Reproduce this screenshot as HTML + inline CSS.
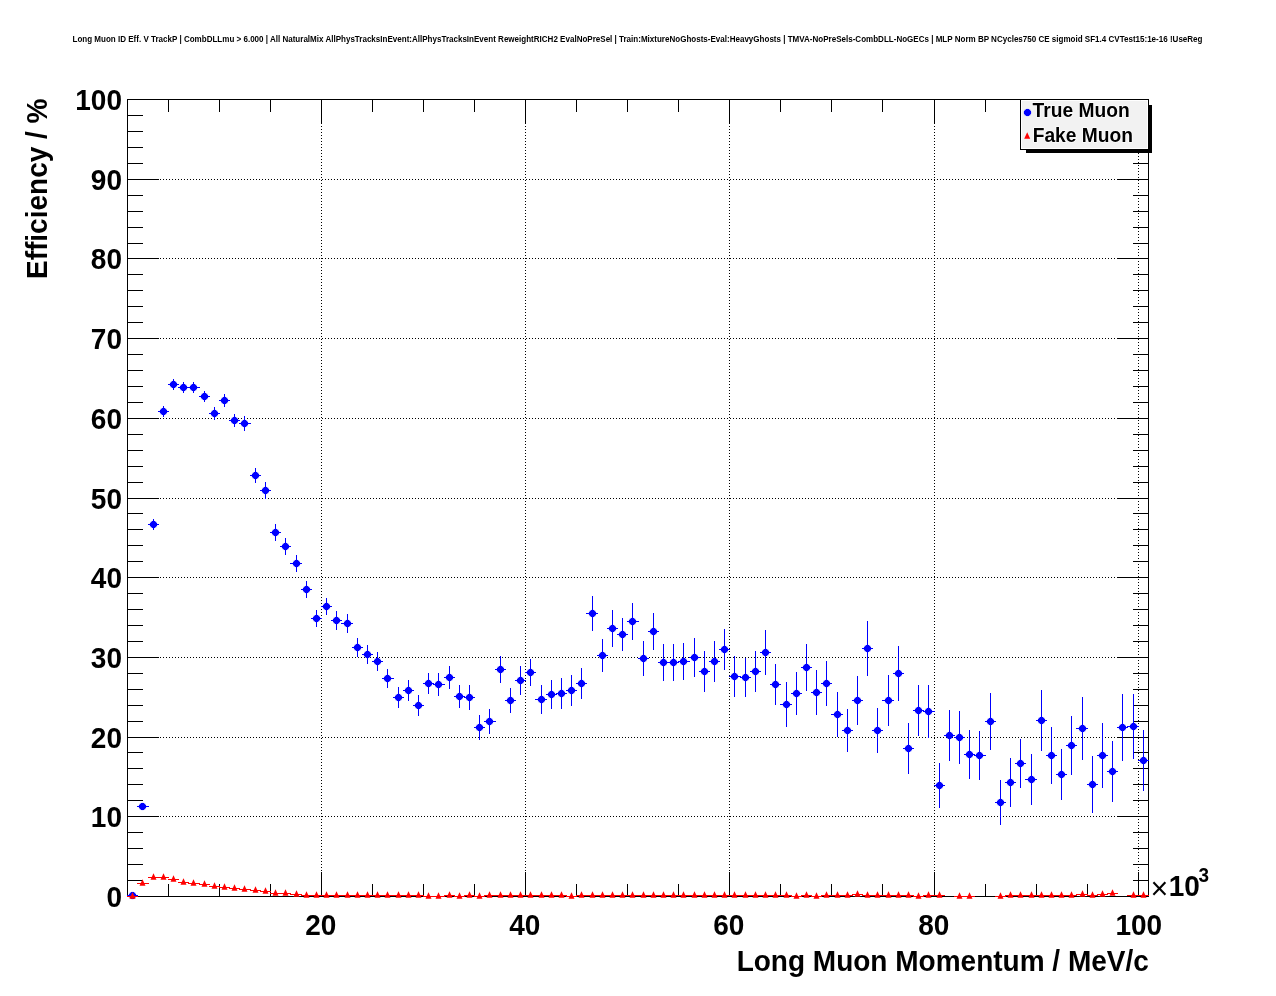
<!DOCTYPE html>
<html lang="en"><head><meta charset="utf-8"><title>Long Muon ID Eff. V TrackP</title>
<style>html,body{margin:0;padding:0;background:#fff}svg{display:block;will-change:transform}text{font-family:"Liberation Sans",Arial,Helvetica,sans-serif;font-weight:bold;fill:#000}.ax{stroke:#000;stroke-width:1;shape-rendering:crispEdges;fill:none}.gr{stroke:#000;stroke-width:1;stroke-dasharray:1 2;shape-rendering:crispEdges;fill:none}.b{stroke:#00f;stroke-width:1;shape-rendering:crispEdges}.r{stroke:#f00;stroke-width:1;shape-rendering:crispEdges}</style></head><body>
<svg width="1276" height="996" viewBox="0 0 1276 996">
<rect width="1276" height="996" fill="#fff"/>
<text x="72.5" y="42" font-size="8.3" textLength="1130" lengthAdjust="spacingAndGlyphs">Long Muon ID Eff. V TrackP | CombDLLmu &gt; 6.000 | All NaturalMix AllPhysTracksInEvent:AllPhysTracksInEvent ReweightRICH2 EvalNoPreSel | Train:MixtureNoGhosts-Eval:HeavyGhosts | TMVA-NoPreSels-CombDLL-NoGECs | MLP Norm BP NCycles750 CE sigmoid SF1.4 CVTest15:1e-16 !UseReg</text>
<path class="gr" d="M160 816.5H1117M160 737.5H1117M160 657.5H1117M160 577.5H1117M160 498.5H1117M160 418.5H1117M160 338.5H1117M160 258.5H1117M160 179.5H1117M321.5 123V872M525.5 123V872M729.5 123V872M934.5 123V872M1138.5 123V872"/>
<path class="ax" d="M127.5 99.5H1148.5V896.5H127.5ZM127.5 896.5h31.5M1148.5 896.5h-31.5M127.5 880.5h15.5M1148.5 880.5h-15.5M127.5 864.5h15.5M1148.5 864.5h-15.5M127.5 848.5h15.5M1148.5 848.5h-15.5M127.5 832.5h15.5M1148.5 832.5h-15.5M127.5 816.5h31.5M1148.5 816.5h-31.5M127.5 800.5h15.5M1148.5 800.5h-15.5M127.5 784.5h15.5M1148.5 784.5h-15.5M127.5 768.5h15.5M1148.5 768.5h-15.5M127.5 752.5h15.5M1148.5 752.5h-15.5M127.5 737.5h31.5M1148.5 737.5h-31.5M127.5 721.5h15.5M1148.5 721.5h-15.5M127.5 705.5h15.5M1148.5 705.5h-15.5M127.5 689.5h15.5M1148.5 689.5h-15.5M127.5 673.5h15.5M1148.5 673.5h-15.5M127.5 657.5h31.5M1148.5 657.5h-31.5M127.5 641.5h15.5M1148.5 641.5h-15.5M127.5 625.5h15.5M1148.5 625.5h-15.5M127.5 609.5h15.5M1148.5 609.5h-15.5M127.5 593.5h15.5M1148.5 593.5h-15.5M127.5 577.5h31.5M1148.5 577.5h-31.5M127.5 561.5h15.5M1148.5 561.5h-15.5M127.5 545.5h15.5M1148.5 545.5h-15.5M127.5 529.5h15.5M1148.5 529.5h-15.5M127.5 513.5h15.5M1148.5 513.5h-15.5M127.5 498.5h31.5M1148.5 498.5h-31.5M127.5 482.5h15.5M1148.5 482.5h-15.5M127.5 466.5h15.5M1148.5 466.5h-15.5M127.5 450.5h15.5M1148.5 450.5h-15.5M127.5 434.5h15.5M1148.5 434.5h-15.5M127.5 418.5h31.5M1148.5 418.5h-31.5M127.5 402.5h15.5M1148.5 402.5h-15.5M127.5 386.5h15.5M1148.5 386.5h-15.5M127.5 370.5h15.5M1148.5 370.5h-15.5M127.5 354.5h15.5M1148.5 354.5h-15.5M127.5 338.5h31.5M1148.5 338.5h-31.5M127.5 322.5h15.5M1148.5 322.5h-15.5M127.5 306.5h15.5M1148.5 306.5h-15.5M127.5 290.5h15.5M1148.5 290.5h-15.5M127.5 274.5h15.5M1148.5 274.5h-15.5M127.5 258.5h31.5M1148.5 258.5h-31.5M127.5 243.5h15.5M1148.5 243.5h-15.5M127.5 227.5h15.5M1148.5 227.5h-15.5M127.5 211.5h15.5M1148.5 211.5h-15.5M127.5 195.5h15.5M1148.5 195.5h-15.5M127.5 179.5h31.5M1148.5 179.5h-31.5M127.5 163.5h15.5M1148.5 163.5h-15.5M127.5 147.5h15.5M1148.5 147.5h-15.5M127.5 131.5h15.5M1148.5 131.5h-15.5M127.5 115.5h15.5M1148.5 115.5h-15.5M127.5 99.5h31.5M1148.5 99.5h-31.5M168.5 896.5v-12.5M168.5 99.5v12.5M219.5 896.5v-12.5M219.5 99.5v12.5M270.5 896.5v-12.5M270.5 99.5v12.5M321.5 896.5v-24.5M321.5 99.5v24.5M372.5 896.5v-12.5M372.5 99.5v12.5M423.5 896.5v-12.5M423.5 99.5v12.5M474.5 896.5v-12.5M474.5 99.5v12.5M525.5 896.5v-24.5M525.5 99.5v24.5M576.5 896.5v-12.5M576.5 99.5v12.5M627.5 896.5v-12.5M627.5 99.5v12.5M678.5 896.5v-12.5M678.5 99.5v12.5M729.5 896.5v-24.5M729.5 99.5v24.5M780.5 896.5v-12.5M780.5 99.5v12.5M831.5 896.5v-12.5M831.5 99.5v12.5M882.5 896.5v-12.5M882.5 99.5v12.5M934.5 896.5v-24.5M934.5 99.5v24.5M985.5 896.5v-12.5M985.5 99.5v12.5M1036.5 896.5v-12.5M1036.5 99.5v12.5M1087.5 896.5v-12.5M1087.5 99.5v12.5M1138.5 896.5v-24.5M1138.5 99.5v24.5"/>
<text transform="translate(122 907.2) scale(0.9655 1)" font-size="29" text-anchor="end">0</text>
<text transform="translate(122 827.2) scale(0.9655 1)" font-size="29" text-anchor="end">10</text>
<text transform="translate(122 748.2) scale(0.9655 1)" font-size="29" text-anchor="end">20</text>
<text transform="translate(122 668.2) scale(0.9655 1)" font-size="29" text-anchor="end">30</text>
<text transform="translate(122 588.2) scale(0.9655 1)" font-size="29" text-anchor="end">40</text>
<text transform="translate(122 509.2) scale(0.9655 1)" font-size="29" text-anchor="end">50</text>
<text transform="translate(122 429.2) scale(0.9655 1)" font-size="29" text-anchor="end">60</text>
<text transform="translate(122 349.2) scale(0.9655 1)" font-size="29" text-anchor="end">70</text>
<text transform="translate(122 269.2) scale(0.9655 1)" font-size="29" text-anchor="end">80</text>
<text transform="translate(122 190.2) scale(0.9655 1)" font-size="29" text-anchor="end">90</text>
<text transform="translate(122 110.2) scale(0.9655 1)" font-size="29" text-anchor="end">100</text>
<text transform="translate(320.8 935) scale(0.9655 1)" font-size="29" text-anchor="middle">20</text>
<text transform="translate(524.8 935) scale(0.9655 1)" font-size="29" text-anchor="middle">40</text>
<text transform="translate(728.8 935) scale(0.9655 1)" font-size="29" text-anchor="middle">60</text>
<text transform="translate(933.8 935) scale(0.9655 1)" font-size="29" text-anchor="middle">80</text>
<text transform="translate(1138.8 935) scale(0.9655 1)" font-size="29" text-anchor="middle">100</text>
<text transform="translate(1148.8 970.7) scale(0.9655 1)" font-size="29" text-anchor="end">Long Muon Momentum / MeV/c</text>
<text transform="translate(47.2 98.5) rotate(-90) scale(0.9655 1)" font-size="29" text-anchor="end">Efficiency / %</text>
<text transform="translate(1150.6 896) scale(0.9655 1)" font-size="29" text-anchor="start"><tspan font-weight="normal" font-size="31.5" dy="3">×</tspan><tspan dy="-3" dx="0.3">10</tspan><tspan font-size="19.6" dy="-13.6" dx="-1.3">3</tspan></text>
<defs><g id="m"><circle r="3.8" fill-opacity="0.45"/><path shape-rendering="crispEdges" d="M-1.5 -3.5h3v1h1v1h1v3h-1v1h-1v1h-3v-1h-1v-1h-1v-3h1v-1h1z"/></g><path id="t" d="M-3 2.3h6l-3 -6.5z"/></defs>
<path class="b" d="M127 895.5h11M137 806.5h12M142.5 805v3M148 524.5h11M153.5 519v11M158 411.5h11M163.5 406v11M168 384.5h11M173.5 379v11M178 387.5h11M183.5 382v11M188 387.5h12M193.5 382v11M199 396.5h11M204.5 391v11M209 413.5h11M214.5 407v13M219 400.5h11M224.5 394v13M229 420.5h11M234.5 414v13M239 423.5h12M244.5 416v15M250 475.5h11M255.5 468v15M260 490.5h11M265.5 482v17M270 532.5h11M275.5 524v17M280 546.5h11M285.5 538v17M290 563.5h12M296.5 555v17M301 589.5h11M306.5 581v17M311 618.5h11M316.5 610v17M321 606.5h11M326.5 598v17M331 620.5h11M336.5 611v19M341 623.5h12M347.5 614v19M352 647.5h11M357.5 638v19M362 654.5h11M367.5 645v19M372 661.5h11M377.5 652v19M382 678.5h12M387.5 669v19M393 697.5h11M398.5 687v21M403 690.5h11M408.5 680v21M413 705.5h11M418.5 695v21M423 683.5h11M428.5 673v21M433 684.5h12M438.5 673v23M444 677.5h11M449.5 666v23M454 696.5h11M459.5 685v23M464 697.5h11M469.5 685v25M474 727.5h11M479.5 715v25M484 721.5h12M489.5 709v25M495 669.5h11M500.5 656v27M505 700.5h11M510.5 688v25M515 680.5h11M520.5 666v29M525 672.5h11M530.5 659v27M535 699.5h12M541.5 685v29M546 694.5h11M551.5 680v29M556 693.5h11M561.5 678v31M566 690.5h11M571.5 675v31M576 683.5h11M581.5 668v31M586 613.5h12M592.5 596v35M597 655.5h11M602.5 639v33M607 628.5h11M612.5 610v37M617 634.5h11M622.5 618v33M627 621.5h12M632.5 603v37M638 658.5h11M643.5 641v35M648 631.5h11M653.5 613v37M658 662.5h11M663.5 644v37M668 662.5h11M673.5 644v37M678 661.5h12M683.5 643v37M689 657.5h11M694.5 638v39M699 671.5h11M704.5 651v41M709 661.5h11M714.5 641v41M719 649.5h11M724.5 629v41M729 676.5h12M734.5 656v41M740 677.5h11M745.5 658v39M750 671.5h11M755.5 651v41M760 652.5h11M765.5 630v45M770 684.5h11M775.5 664v41M780 704.5h12M786.5 682v45M791 693.5h11M796.5 672v43M801 667.5h11M806.5 644v47M811 692.5h11M816.5 670v45M821 683.5h11M826.5 661v45M831 714.5h12M837.5 692v45M842 730.5h11M847.5 709v43M852 700.5h11M857.5 676v49M862 648.5h11M867.5 621v55M872 730.5h11M877.5 708v45M882 700.5h12M888.5 675v51M893 673.5h11M898.5 646v55M903 748.5h11M908.5 723v51M913 710.5h11M918.5 685v51M923 711.5h12M928.5 685v53M934 785.5h11M939.5 763v45M944 735.5h11M949.5 710v51M954 737.5h11M959.5 711v53M964 754.5h11M969.5 730v49M974 755.5h12M979.5 731v49M985 721.5h11M990.5 693v57M995 802.5h11M1000.5 780v45M1005 782.5h11M1010.5 758v49M1015 763.5h11M1020.5 739v49M1025 779.5h12M1031.5 754v51M1036 720.5h11M1041.5 690v61M1046 755.5h11M1051.5 727v57M1056 774.5h11M1061.5 749v51M1066 745.5h11M1071.5 716v59M1076 728.5h12M1082.5 697v63M1087 784.5h11M1092.5 756v57M1097 755.5h11M1102.5 723v65M1107 771.5h11M1112.5 741v61M1117 727.5h11M1122.5 694v67M1127 726.5h12M1133.5 694v65M1138 760.5h11M1143.5 730v61"/>
<g fill="#00f"><use href="#m" x="132.5" y="895.5"/><use href="#m" x="142.5" y="806.5"/><use href="#m" x="153.5" y="524.5"/><use href="#m" x="163.5" y="411.5"/><use href="#m" x="173.5" y="384.5"/><use href="#m" x="183.5" y="387.5"/><use href="#m" x="193.5" y="387.5"/><use href="#m" x="204.5" y="396.5"/><use href="#m" x="214.5" y="413.5"/><use href="#m" x="224.5" y="400.5"/><use href="#m" x="234.5" y="420.5"/><use href="#m" x="244.5" y="423.5"/><use href="#m" x="255.5" y="475.5"/><use href="#m" x="265.5" y="490.5"/><use href="#m" x="275.5" y="532.5"/><use href="#m" x="285.5" y="546.5"/><use href="#m" x="296.5" y="563.5"/><use href="#m" x="306.5" y="589.5"/><use href="#m" x="316.5" y="618.5"/><use href="#m" x="326.5" y="606.5"/><use href="#m" x="336.5" y="620.5"/><use href="#m" x="347.5" y="623.5"/><use href="#m" x="357.5" y="647.5"/><use href="#m" x="367.5" y="654.5"/><use href="#m" x="377.5" y="661.5"/><use href="#m" x="387.5" y="678.5"/><use href="#m" x="398.5" y="697.5"/><use href="#m" x="408.5" y="690.5"/><use href="#m" x="418.5" y="705.5"/><use href="#m" x="428.5" y="683.5"/><use href="#m" x="438.5" y="684.5"/><use href="#m" x="449.5" y="677.5"/><use href="#m" x="459.5" y="696.5"/><use href="#m" x="469.5" y="697.5"/><use href="#m" x="479.5" y="727.5"/><use href="#m" x="489.5" y="721.5"/><use href="#m" x="500.5" y="669.5"/><use href="#m" x="510.5" y="700.5"/><use href="#m" x="520.5" y="680.5"/><use href="#m" x="530.5" y="672.5"/><use href="#m" x="541.5" y="699.5"/><use href="#m" x="551.5" y="694.5"/><use href="#m" x="561.5" y="693.5"/><use href="#m" x="571.5" y="690.5"/><use href="#m" x="581.5" y="683.5"/><use href="#m" x="592.5" y="613.5"/><use href="#m" x="602.5" y="655.5"/><use href="#m" x="612.5" y="628.5"/><use href="#m" x="622.5" y="634.5"/><use href="#m" x="632.5" y="621.5"/><use href="#m" x="643.5" y="658.5"/><use href="#m" x="653.5" y="631.5"/><use href="#m" x="663.5" y="662.5"/><use href="#m" x="673.5" y="662.5"/><use href="#m" x="683.5" y="661.5"/><use href="#m" x="694.5" y="657.5"/><use href="#m" x="704.5" y="671.5"/><use href="#m" x="714.5" y="661.5"/><use href="#m" x="724.5" y="649.5"/><use href="#m" x="734.5" y="676.5"/><use href="#m" x="745.5" y="677.5"/><use href="#m" x="755.5" y="671.5"/><use href="#m" x="765.5" y="652.5"/><use href="#m" x="775.5" y="684.5"/><use href="#m" x="786.5" y="704.5"/><use href="#m" x="796.5" y="693.5"/><use href="#m" x="806.5" y="667.5"/><use href="#m" x="816.5" y="692.5"/><use href="#m" x="826.5" y="683.5"/><use href="#m" x="837.5" y="714.5"/><use href="#m" x="847.5" y="730.5"/><use href="#m" x="857.5" y="700.5"/><use href="#m" x="867.5" y="648.5"/><use href="#m" x="877.5" y="730.5"/><use href="#m" x="888.5" y="700.5"/><use href="#m" x="898.5" y="673.5"/><use href="#m" x="908.5" y="748.5"/><use href="#m" x="918.5" y="710.5"/><use href="#m" x="928.5" y="711.5"/><use href="#m" x="939.5" y="785.5"/><use href="#m" x="949.5" y="735.5"/><use href="#m" x="959.5" y="737.5"/><use href="#m" x="969.5" y="754.5"/><use href="#m" x="979.5" y="755.5"/><use href="#m" x="990.5" y="721.5"/><use href="#m" x="1000.5" y="802.5"/><use href="#m" x="1010.5" y="782.5"/><use href="#m" x="1020.5" y="763.5"/><use href="#m" x="1031.5" y="779.5"/><use href="#m" x="1041.5" y="720.5"/><use href="#m" x="1051.5" y="755.5"/><use href="#m" x="1061.5" y="774.5"/><use href="#m" x="1071.5" y="745.5"/><use href="#m" x="1082.5" y="728.5"/><use href="#m" x="1092.5" y="784.5"/><use href="#m" x="1102.5" y="755.5"/><use href="#m" x="1112.5" y="771.5"/><use href="#m" x="1122.5" y="727.5"/><use href="#m" x="1133.5" y="726.5"/><use href="#m" x="1143.5" y="760.5"/></g>
<path class="r" d="M127 896.5h11M137 883.5h12M148 877.5h11M158 877.5h11M168 879.5h11M178 882.5h11M188 883.5h12M199 884.5h11M209 886.5h11M219 887.5h11M229 888.5h11M239 889.5h12M250 890.5h11M260 891.5h11M270 893.5h11M280 893.5h11M290 894.5h12M301 895.5h11M311 895.5h11M321 895.5h11M331 895.5h11M341 895.5h12M352 895.5h11M362 895.5h11M372 895.5h11M382 895.5h12M393 895.5h11M403 895.5h11M413 895.5h11M423 896.5h11M433 896.5h12M444 895.5h11M454 896.5h11M464 895.5h11M474 896.5h11M484 895.5h12M495 895.5h11M505 895.5h11M515 895.5h11M525 895.5h11M535 895.5h12M546 895.5h11M556 895.5h11M566 896.5h11M576 895.5h11M586 895.5h12M597 895.5h11M607 895.5h11M617 895.5h11M627 895.5h12M638 895.5h11M648 895.5h11M658 895.5h11M668 895.5h11M678 895.5h12M689 895.5h11M699 895.5h11M709 895.5h11M719 895.5h11M729 895.5h12M740 895.5h11M750 895.5h11M760 895.5h11M770 895.5h11M780 895.5h12M791 896.5h11M801 895.5h11M811 896.5h11M821 895.5h11M831 895.5h12M842 895.5h11M852 894.5h11M862 895.5h11M872 895.5h11M882 895.5h12M893 895.5h11M903 895.5h11M913 896.5h11M923 895.5h12M934 895.5h11M954 896.5h11M964 896.5h11M995 896.5h11M1005 895.5h11M1015 895.5h11M1025 895.5h12M1036 895.5h11M1046 895.5h11M1056 895.5h11M1066 895.5h11M1076 894.5h12M1087 895.5h11M1097 894.5h11M1107 893.5h11M1127 895.5h12M1138 895.5h11"/>
<g fill="#f00"><use href="#t" x="132.5" y="896.5"/><use href="#t" x="142.5" y="883.5"/><use href="#t" x="153.5" y="877.5"/><use href="#t" x="163.5" y="877.5"/><use href="#t" x="173.5" y="879.5"/><use href="#t" x="183.5" y="882.5"/><use href="#t" x="193.5" y="883.5"/><use href="#t" x="204.5" y="884.5"/><use href="#t" x="214.5" y="886.5"/><use href="#t" x="224.5" y="887.5"/><use href="#t" x="234.5" y="888.5"/><use href="#t" x="244.5" y="889.5"/><use href="#t" x="255.5" y="890.5"/><use href="#t" x="265.5" y="891.5"/><use href="#t" x="275.5" y="893.5"/><use href="#t" x="285.5" y="893.5"/><use href="#t" x="296.5" y="894.5"/><use href="#t" x="306.5" y="895.5"/><use href="#t" x="316.5" y="895.5"/><use href="#t" x="326.5" y="895.5"/><use href="#t" x="336.5" y="895.5"/><use href="#t" x="347.5" y="895.5"/><use href="#t" x="357.5" y="895.5"/><use href="#t" x="367.5" y="895.5"/><use href="#t" x="377.5" y="895.5"/><use href="#t" x="387.5" y="895.5"/><use href="#t" x="398.5" y="895.5"/><use href="#t" x="408.5" y="895.5"/><use href="#t" x="418.5" y="895.5"/><use href="#t" x="428.5" y="896.5"/><use href="#t" x="438.5" y="896.5"/><use href="#t" x="449.5" y="895.5"/><use href="#t" x="459.5" y="896.5"/><use href="#t" x="469.5" y="895.5"/><use href="#t" x="479.5" y="896.5"/><use href="#t" x="489.5" y="895.5"/><use href="#t" x="500.5" y="895.5"/><use href="#t" x="510.5" y="895.5"/><use href="#t" x="520.5" y="895.5"/><use href="#t" x="530.5" y="895.5"/><use href="#t" x="541.5" y="895.5"/><use href="#t" x="551.5" y="895.5"/><use href="#t" x="561.5" y="895.5"/><use href="#t" x="571.5" y="896.5"/><use href="#t" x="581.5" y="895.5"/><use href="#t" x="592.5" y="895.5"/><use href="#t" x="602.5" y="895.5"/><use href="#t" x="612.5" y="895.5"/><use href="#t" x="622.5" y="895.5"/><use href="#t" x="632.5" y="895.5"/><use href="#t" x="643.5" y="895.5"/><use href="#t" x="653.5" y="895.5"/><use href="#t" x="663.5" y="895.5"/><use href="#t" x="673.5" y="895.5"/><use href="#t" x="683.5" y="895.5"/><use href="#t" x="694.5" y="895.5"/><use href="#t" x="704.5" y="895.5"/><use href="#t" x="714.5" y="895.5"/><use href="#t" x="724.5" y="895.5"/><use href="#t" x="734.5" y="895.5"/><use href="#t" x="745.5" y="895.5"/><use href="#t" x="755.5" y="895.5"/><use href="#t" x="765.5" y="895.5"/><use href="#t" x="775.5" y="895.5"/><use href="#t" x="786.5" y="895.5"/><use href="#t" x="796.5" y="896.5"/><use href="#t" x="806.5" y="895.5"/><use href="#t" x="816.5" y="896.5"/><use href="#t" x="826.5" y="895.5"/><use href="#t" x="837.5" y="895.5"/><use href="#t" x="847.5" y="895.5"/><use href="#t" x="857.5" y="894.5"/><use href="#t" x="867.5" y="895.5"/><use href="#t" x="877.5" y="895.5"/><use href="#t" x="888.5" y="895.5"/><use href="#t" x="898.5" y="895.5"/><use href="#t" x="908.5" y="895.5"/><use href="#t" x="918.5" y="896.5"/><use href="#t" x="928.5" y="895.5"/><use href="#t" x="939.5" y="895.5"/><use href="#t" x="959.5" y="896.5"/><use href="#t" x="969.5" y="896.5"/><use href="#t" x="1000.5" y="896.5"/><use href="#t" x="1010.5" y="895.5"/><use href="#t" x="1020.5" y="895.5"/><use href="#t" x="1031.5" y="895.5"/><use href="#t" x="1041.5" y="895.5"/><use href="#t" x="1051.5" y="895.5"/><use href="#t" x="1061.5" y="895.5"/><use href="#t" x="1071.5" y="895.5"/><use href="#t" x="1082.5" y="894.5"/><use href="#t" x="1092.5" y="895.5"/><use href="#t" x="1102.5" y="894.5"/><use href="#t" x="1112.5" y="893.5"/><use href="#t" x="1133.5" y="895.5"/><use href="#t" x="1143.5" y="895.5"/></g>
<rect x="1026" y="105" width="126" height="48" fill="#000" shape-rendering="crispEdges"/>
<rect x="1020.5" y="99.5" width="128" height="50" fill="#fff" stroke="#000" stroke-width="1" shape-rendering="crispEdges"/>
<rect x="1022" y="101" width="125" height="47" fill="#f2f2f2" shape-rendering="crispEdges"/>
<use href="#m" x="1027.5" y="112.5" fill="#00f"/>
<use href="#t" x="1027.2" y="136.5" fill="#f00"/>
<text transform="translate(1032.6 116.8) scale(0.9655 1)" font-size="19.9" text-anchor="start" stroke="#fff" stroke-width="1.6" stroke-opacity="0.8" paint-order="stroke">True Muon</text>
<text transform="translate(1032.7 141.6) scale(0.9655 1)" font-size="19.9" text-anchor="start" stroke="#fff" stroke-width="1.6" stroke-opacity="0.8" paint-order="stroke">Fake Muon</text>
</svg></body></html>
